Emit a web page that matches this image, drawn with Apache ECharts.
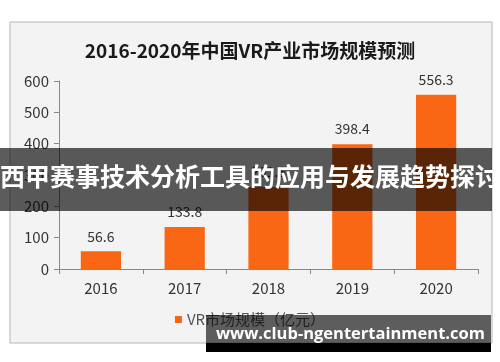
<!DOCTYPE html>
<html><head><meta charset="utf-8">
<script src="https://cdn.jsdelivr.net/npm/echarts@6/dist/echarts.min.js"></script>
<style>html,body{margin:0;padding:0;background:#fff}#c{width:500px;height:362px}</style>
</head><body><div id="c"></div>
<script>
const categories = ['2016','2017','2018','2019','2020'];
const values = [56.6, 133.8, 261.6, 398.4, 556.3];
const seriesName = 'VR市场规模（亿元）';
const titleText = '2016-2020年中国VR产业市场规模预测';
const bannerText = '西甲赛事技术分析工具的应用与发展趋势探讨';
const watermarkText = 'www.club-ngentertainment.com';

const FONT = '"Noto Sans CJK SC","Noto Sans",sans-serif';
const chart = echarts.init(document.getElementById('c'));
chart.setOption({
  backgroundColor: '#fff',
  animation: false,
  textStyle: { fontFamily: FONT },
  title: {
    text: titleText, left: 'center', top: 36,
    textStyle: { fontSize: 19, fontWeight: 'bold', color: '#1a1a1a', fontFamily: FONT }
  },
  grid: { left: 59, right: 22, top: 81, bottom: 93 },
  legend: {
    bottom: 30, left: 'center', itemWidth: 7, itemHeight: 7, icon: 'rect',
    textStyle: { fontSize: 15, color: '#555', fontFamily: FONT },
    data: [seriesName]
  },
  xAxis: {
    type: 'category', data: categories,
    axisLine: { lineStyle: { color: '#888' } },
    axisTick: { show: true, length: 5, lineStyle: { color: '#888' } },
    axisLabel: { fontSize: 15, color: '#333', margin: 12 }
  },
  yAxis: {
    type: 'value', min: 0, max: 600, interval: 100,
    axisLine: { show: true, lineStyle: { color: '#888' } },
    axisTick: { show: true, length: 5, lineStyle: { color: '#888' } },
    splitLine: { show: false },
    axisLabel: { fontSize: 15, color: '#333', margin: 10 }
  },
  series: [{
    name: seriesName, type: 'bar', data: values, barWidth: '48%',
    itemStyle: { color: '#f96714' },
    label: { show: true, position: 'top', distance: 8, fontSize: 14, color: '#333' }
  }],
  graphic: [
    { type: 'rect', z: -10, shape: { x: 10, y: 22, width: 482, height: 321 },
      style: { fill: '#f3f3f3', stroke: '#b5b5b5', lineWidth: 1 } },
    { type: 'rect', z: 100, shape: { x: 0, y: 148, width: 492, height: 63 },
      style: { fill: 'rgba(0,0,0,0.64)' } },
    { type: 'text', z: 101, left: 'center', top: 164,
      style: { text: bannerText, fill: '#fff', font: 'bold 25px ' + FONT } },
    { type: 'rect', z: 100, shape: { x: 206, y: 315, width: 285, height: 28 },
      style: { fill: 'rgba(0,0,0,0.62)' } },
    { type: 'rect', z: 100, shape: { x: 206, y: 343, width: 285, height: 9 },
      style: { fill: '#000' } },
    { type: 'text', z: 101, x: 216, y: 326,
      style: { text: watermarkText, fill: '#fff', font: 'bold 16.5px "Open Sans",sans-serif' } }
  ]
});
</script></body></html>
